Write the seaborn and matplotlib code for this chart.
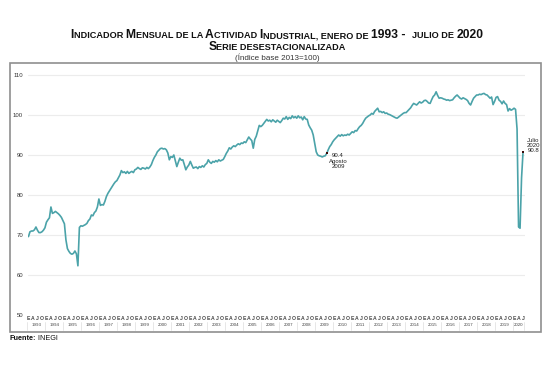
import numpy as np
import pandas as pd
import seaborn as sns
import matplotlib.pyplot as plt
from matplotlib.patches import Rectangle

# Indicador mensual de la actividad industrial, serie desestacionalizada (2013=100)
ind_1993 = [69.6, 70.8, 71.0, 71.0, 71.3, 72.0, 71.2, 70.6, 70.6, 70.8, 71.2, 71.8]
ind_1994 = [73.2, 73.8, 74.3, 77.0, 75.4, 75.6, 75.9, 75.6, 75.3, 74.9, 74.4, 73.6]
ind_1995 = [72.8, 68.8, 66.6, 65.9, 65.4, 65.2, 65.4, 66.0, 65.3, 62.3, 71.9, 72.3]
ind_1996 = [72.2, 72.4, 72.6, 72.9, 73.6, 74.0, 75.0, 74.8, 75.6, 76.0, 77.0, 79.0]
ind_1997 = [77.4, 77.6, 77.5, 78.4, 79.6, 80.4, 81.0, 81.6, 82.2, 82.8, 83.3, 83.6]
ind_1998 = [84.3, 85.0, 86.1, 85.6, 85.8, 85.4, 85.9, 85.4, 85.7, 85.9, 85.6, 86.3]
ind_1999 = [86.5, 86.9, 86.6, 86.4, 86.8, 86.7, 86.5, 86.9, 86.6, 87.0, 87.6, 88.6]
ind_2000 = [89.4, 90.0, 90.8, 91.2, 91.6, 91.7, 91.5, 91.6, 91.3, 90.5, 88.8, 89.6]
ind_2001 = [89.4, 90.0, 88.6, 87.1, 88.2, 89.2, 88.7, 88.8, 87.6, 86.3, 87.0, 87.5]
ind_2002 = [88.4, 87.5, 86.7, 86.9, 87.0, 86.6, 87.1, 86.9, 87.3, 87.0, 87.6, 87.9]
ind_2003 = [88.8, 88.2, 87.9, 88.4, 88.2, 88.6, 88.3, 88.8, 88.5, 88.7, 88.9, 89.6]
ind_2004 = [90.4, 91.0, 91.8, 91.5, 92.0, 92.3, 92.1, 92.5, 92.8, 92.6, 93.0, 92.9]
ind_2005 = [93.3, 93.1, 93.8, 94.5, 94.0, 93.6, 91.7, 93.9, 94.7, 96.0, 97.4, 97.1]
ind_2006 = [97.4, 97.9, 98.4, 98.9, 98.5, 98.7, 98.3, 98.8, 98.5, 98.2, 98.7, 98.4]
ind_2007 = [98.1, 98.6, 99.2, 99.0, 99.6, 98.9, 99.4, 99.1, 99.8, 99.3, 99.6, 99.2]
ind_2008 = [99.8, 99.3, 99.5, 98.8, 99.6, 99.0, 98.9, 97.5, 96.8, 96.2, 95.0, 92.9]
ind_2009 = [90.8, 90.0, 89.8, 89.7, 89.5, 89.7, 89.8, 90.4, 91.3, 92.1, 92.6, 93.3]
ind_2010 = [93.8, 94.2, 94.6, 95.0, 94.7, 95.1, 94.8, 95.0, 94.9, 95.2, 95.0, 95.4]
ind_2011 = [95.8, 95.6, 96.1, 96.0, 96.6, 97.1, 97.4, 97.9, 98.6, 99.2, 99.5, 99.8]
ind_2012 = [100.0, 100.4, 100.2, 100.9, 101.3, 101.7, 100.8, 100.9, 100.6, 100.8, 100.4, 100.5]
ind_2013 = [100.2, 100.1, 99.9, 99.7, 99.5, 99.3, 99.2, 99.5, 99.8, 100.1, 100.4, 100.6]
ind_2014 = [100.6, 101.0, 101.4, 101.8, 102.4, 102.9, 102.7, 102.5, 102.9, 103.3, 103.0, 103.2]
ind_2015 = [103.6, 103.7, 103.4, 103.0, 102.9, 103.8, 104.6, 105.0, 105.8, 104.9, 104.2, 104.3]
ind_2016 = [104.2, 104.0, 103.9, 103.7, 103.8, 103.6, 103.7, 103.8, 104.3, 104.7, 105.0, 104.6]
ind_2017 = [104.2, 104.0, 104.3, 104.1, 103.9, 103.6, 102.9, 102.5, 103.4, 104.2, 104.6, 105.0]
ind_2018 = [105.0, 105.2, 105.1, 105.3, 105.4, 105.1, 105.0, 104.6, 104.2, 104.5, 102.6, 103.4]
ind_2019 = [104.4, 104.6, 103.7, 103.4, 102.8, 103.5, 102.9, 102.6, 101.0, 101.6, 101.2, 101.4]
ind_2020 = [101.7, 101.4, 96.5, 72.0, 71.7, 84.3, 90.8]

years = list(range(1993, 2021))
month_letters = ["E", "A", "J", "O"]
y_ticks = [50, 60, 70, 80, 90, 100, 110]

values = (ind_1993 + ind_1994 + ind_1995 + ind_1996 + ind_1997 + ind_1998 + ind_1999
          + ind_2000 + ind_2001 + ind_2002 + ind_2003 + ind_2004 + ind_2005 + ind_2006
          + ind_2007 + ind_2008 + ind_2009 + ind_2010 + ind_2011 + ind_2012 + ind_2013
          + ind_2014 + ind_2015 + ind_2016 + ind_2017 + ind_2018 + ind_2019 + ind_2020)
df = pd.DataFrame({"mes": np.arange(len(values)), "indice": values})

sns.set_style("white")
plt.rcParams["font.family"] = ["Liberation Sans", "DejaVu Sans"]

W, H = 552, 369
fig = plt.figure(figsize=(W / 100, H / 100), dpi=100)
ax = fig.add_axes([28 / W, 1 - 315 / H, (525 - 28) / W, (315 - 73) / H])

for v in y_ticks[1:]:
    ax.axhline(v, color="#ececec", lw=0.8, zorder=0)
sns.lineplot(data=df, x="mes", y="indice", ax=ax, color="#4ba3a9", linewidth=1.2)

ax.set_xlim(-0.3, 331.3)
ax.set_ylim(50, 110.5)
ax.set_xlabel("")
ax.set_ylabel("")
ax.set_xticks([])
ax.set_yticks(y_ticks)
ax.set_yticklabels([str(v) for v in y_ticks])
ax.tick_params(axis="y", length=0, pad=3.5, labelsize=4.3, labelcolor="#333333")
for s in ax.spines.values():
    s.set_visible(False)

# etiquetas de meses y anios
tr = ax.get_xaxis_transform()
for i, yr in enumerate(years):
    for k, letter in enumerate(month_letters):
        m = i * 12 + k * 3
        if m < len(values):
            ax.text(m, -0.013, letter, transform=tr, ha="center", va="center",
                    fontsize=3.7, color="#444444", weight="bold")
    x_mid = i * 12 + (min(12, len(values) - i * 12) - 1) / 2
    ax.text(x_mid, -0.043, str(yr), transform=tr, ha="center", va="center",
            fontsize=3.2, color="#444444")
    ax.plot([i * 12 - 0.75] * 2, [-0.028, -0.06], transform=tr, color="#dddddd",
            lw=0.5, clip_on=False)
ax.plot([len(values) - 0.25] * 2, [-0.028, -0.06], transform=tr, color="#dddddd",
        lw=0.5, clip_on=False)

# puntos destacados
ago09 = 16 * 12 + 7
jul20 = len(values) - 1
ax.scatter([ago09, jul20], [values[ago09], values[jul20]], s=4, marker="s",
           color="#3a0a0a", zorder=5, linewidths=0)
ax.text(ago09 + 7.5, values[ago09] - 1.9, "90.4\nAgosto\n2009", ha="center",
        va="center", fontsize=4.3, color="#222222", linespacing=1.05)
ax.text(jul20 + 7, values[jul20] + 1.5, "Julio\n2020\n90.8", ha="center",
        va="center", fontsize=4.3, color="#222222", linespacing=1.05,
        clip_on=False)

# marco
fig.patches.append(Rectangle((10 / W, 1 - 332 / H), 531 / W, (332 - 63) / H,
                             transform=fig.transFigure, fill=False,
                             ec="#8f8f8f", lw=1.2))

renderer = fig.canvas.get_renderer()


def adv(s, size, weight):
    t1 = fig.text(0, 0, "x" + s + "x", fontsize=size, weight=weight)
    t2 = fig.text(0, 0, "xx", fontsize=size, weight=weight)
    w = t1.get_window_extent(renderer).width - t2.get_window_extent(renderer).width
    t1.remove()
    t2.remove()
    return w


def row(parts, y, center=None, left=None, color="#111111"):
    widths = [adv(s, size, weight) for s, size, weight in parts]
    x0 = center - sum(widths) / 2 if center is not None else left
    for (s, size, weight), w in zip(parts, widths):
        fig.text(x0 / W, 1 - y / H, s, fontsize=size, weight=weight,
                 ha="left", va="baseline", color=color)
        x0 += w


B, S = 8.7, 6.6
row([("I", B, "bold"), ("NDICADOR ", S, "bold"), ("M", B, "bold"),
     ("ENSUAL DE LA ", S, "bold"), ("A", B, "bold"), ("CTIVIDAD ", S, "bold"),
     ("I", B, "bold"), ("NDUSTRIAL, ENERO DE ", S, "bold"), ("1993 -  ", B, "bold"),
     ("JULIO DE ", S, "bold"), ("2020", B, "bold")], 38.5, center=277)
row([("S", B, "bold"), ("ERIE DESESTACIONALIZADA", S, "bold")], 50.5, center=277)
row([("(Índice base 2013=100)", 5.8, "normal")], 59.5, center=277, color="#333333")
row([("Fuente:", 5.2, "bold"), (" INEGI", 5.2, "normal")], 340, left=10)

fig.savefig("out.png", dpi=100)
